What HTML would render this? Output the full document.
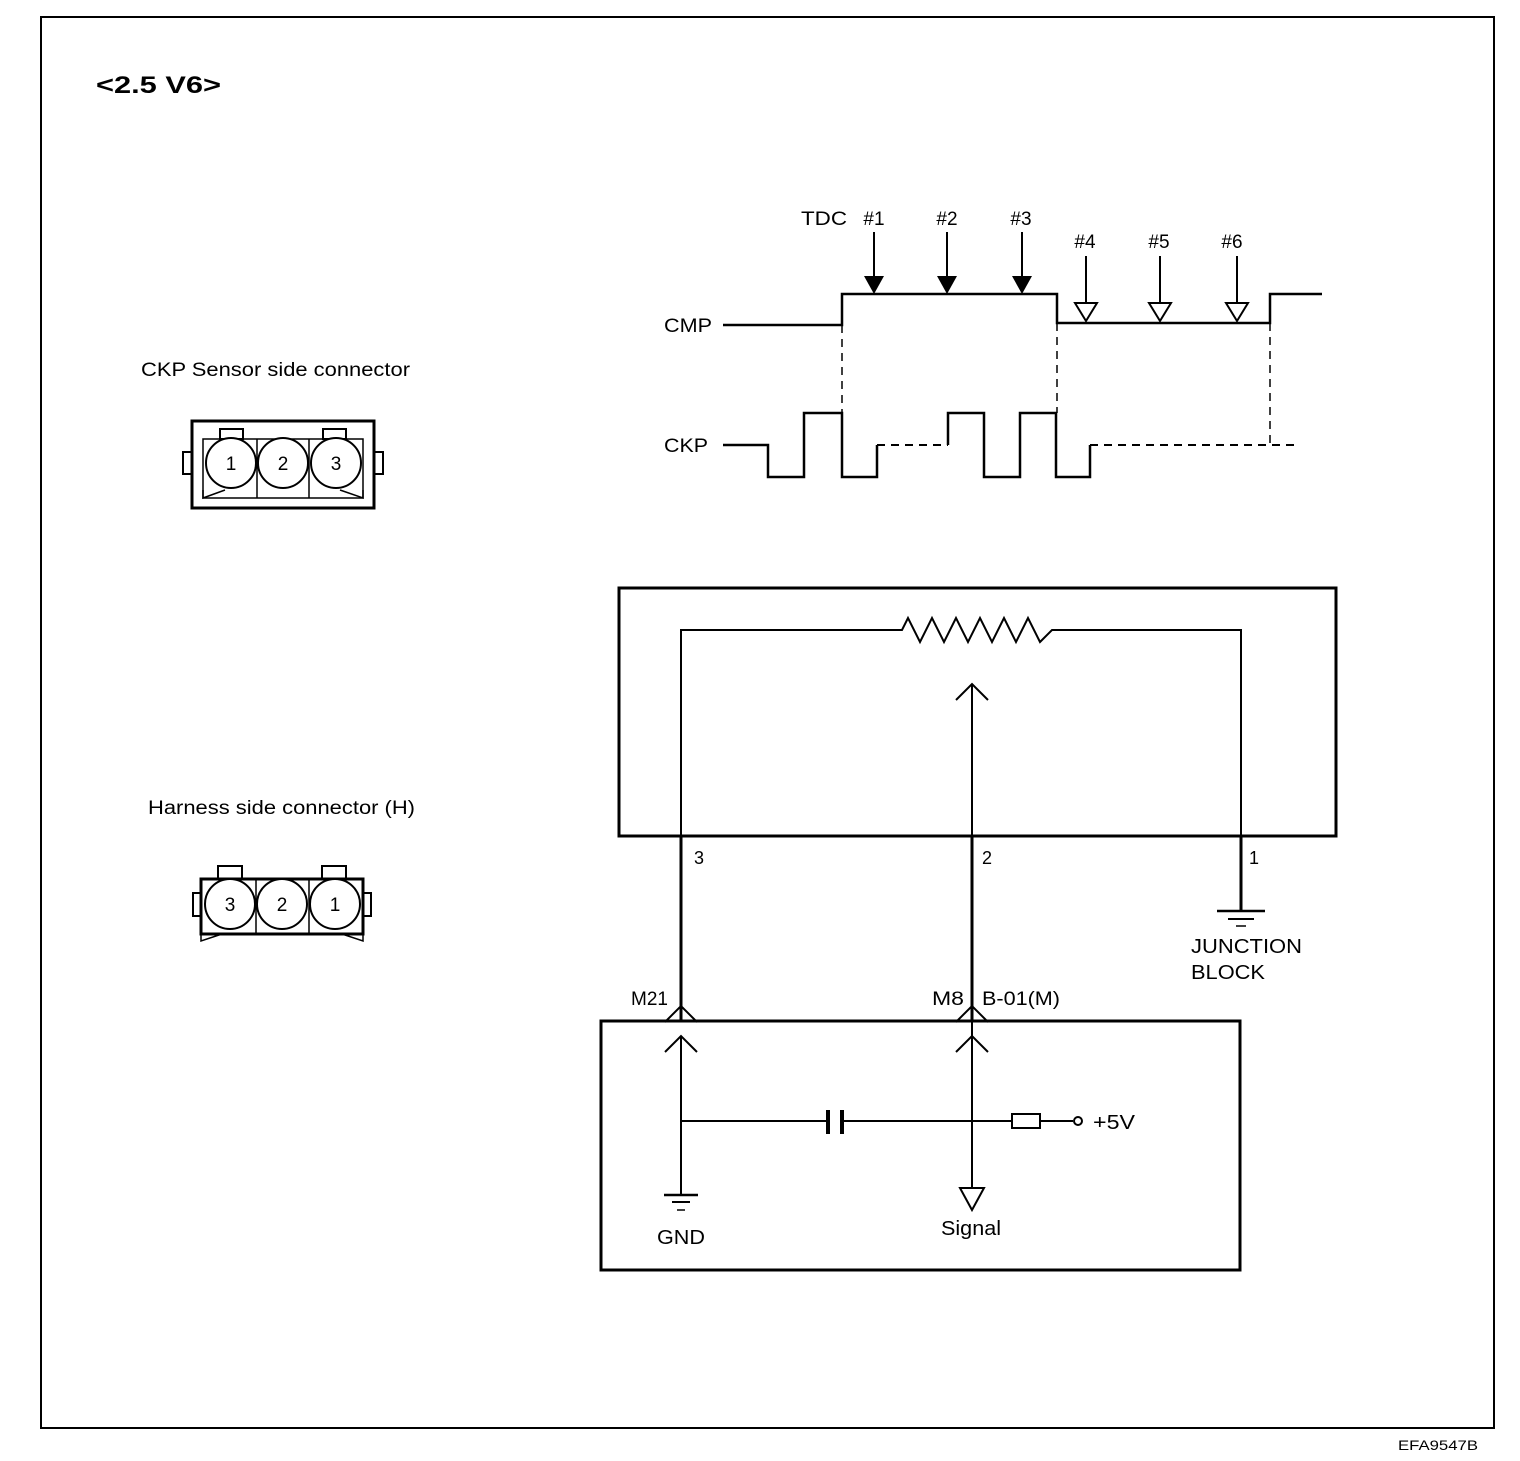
<!DOCTYPE html>
<html><head><style>
body{margin:0;background:#fff;}
svg text{font-family:"Liberation Sans",sans-serif;fill:#000;}
</style></head><body>
<svg width="1520" height="1456" viewBox="0 0 1520 1456" xmlns="http://www.w3.org/2000/svg" fill="none" stroke="#000">
<rect x="41" y="17" width="1453" height="1411" stroke-width="2"/>
<text x="96" y="93" font-size="24" font-weight="bold" stroke="none" textLength="125" lengthAdjust="spacingAndGlyphs">&lt;2.5 V6&gt;</text>
<text x="1398" y="1450" font-size="14" stroke="none" textLength="80" lengthAdjust="spacingAndGlyphs">EFA9547B</text>

<!-- CKP sensor connector -->
<text x="141" y="376" font-size="19" stroke="none" textLength="269" lengthAdjust="spacingAndGlyphs">CKP Sensor side connector</text>
<rect x="192" y="421" width="182" height="87" stroke-width="3"/>
<rect x="183" y="452" width="9" height="22" stroke-width="2"/>
<rect x="374" y="452" width="9" height="22" stroke-width="2"/>
<rect x="220" y="429" width="23" height="10" stroke-width="2"/>
<rect x="323" y="429" width="23" height="10" stroke-width="2"/>
<rect x="203" y="439" width="160" height="59" stroke-width="1.5"/>
<line x1="257" y1="439" x2="257" y2="498" stroke-width="1.5"/>
<line x1="309" y1="439" x2="309" y2="498" stroke-width="1.5"/>
<polyline points="203,490 203,498 225,490" stroke-width="1.5"/>
<polyline points="363,490 363,498 340,490" stroke-width="1.5"/>
<circle cx="231" cy="463" r="25" stroke-width="2" fill="#fff"/>
<circle cx="283" cy="463" r="25" stroke-width="2" fill="#fff"/>
<circle cx="336" cy="463" r="25" stroke-width="2" fill="#fff"/>
<text x="231" y="470" font-size="19" text-anchor="middle" stroke="none">1</text>
<text x="283" y="470" font-size="19" text-anchor="middle" stroke="none">2</text>
<text x="336" y="470" font-size="19" text-anchor="middle" stroke="none">3</text>

<!-- Harness connector -->
<text x="148" y="814" font-size="19" stroke="none" textLength="267" lengthAdjust="spacingAndGlyphs">Harness side connector (H)</text>
<rect x="201" y="879" width="162" height="55" stroke-width="3"/>
<rect x="193" y="893" width="8" height="23" stroke-width="2"/>
<rect x="363" y="893" width="8" height="23" stroke-width="2"/>
<rect x="218" y="866" width="24" height="13" stroke-width="2"/>
<rect x="322" y="866" width="24" height="13" stroke-width="2"/>
<line x1="256" y1="879" x2="256" y2="934" stroke-width="1.5"/>
<line x1="309" y1="879" x2="309" y2="934" stroke-width="1.5"/>
<polyline points="201,934 201,941 222,934" stroke-width="1.5"/>
<polyline points="363,934 363,941 342,934" stroke-width="1.5"/>
<circle cx="230" cy="904" r="25" stroke-width="2" fill="#fff"/>
<circle cx="282" cy="904" r="25" stroke-width="2" fill="#fff"/>
<circle cx="335" cy="904" r="25" stroke-width="2" fill="#fff"/>
<text x="230" y="911" font-size="19" text-anchor="middle" stroke="none">3</text>
<text x="282" y="911" font-size="19" text-anchor="middle" stroke="none">2</text>
<text x="335" y="911" font-size="19" text-anchor="middle" stroke="none">1</text>

<!-- waveform -->
<text x="801" y="225" font-size="19" stroke="none" textLength="46" lengthAdjust="spacingAndGlyphs">TDC</text>
<text x="874" y="225" font-size="19" text-anchor="middle" stroke="none">#1</text>
<text x="947" y="225" font-size="19" text-anchor="middle" stroke="none">#2</text>
<text x="1021" y="225" font-size="19" text-anchor="middle" stroke="none">#3</text>
<text x="1085" y="248" font-size="19" text-anchor="middle" stroke="none">#4</text>
<text x="1159" y="248" font-size="19" text-anchor="middle" stroke="none">#5</text>
<text x="1232" y="248" font-size="19" text-anchor="middle" stroke="none">#6</text>
<text x="664" y="332" font-size="19" stroke="none" textLength="48" lengthAdjust="spacingAndGlyphs">CMP</text>
<text x="664" y="452" font-size="19" stroke="none" textLength="44" lengthAdjust="spacingAndGlyphs">CKP</text>
<polyline points="723,325 842,325 842,294 1057,294 1057,323 1270,323 1270,294 1322,294" stroke-width="2.5"/>
<g stroke-width="2">
<line x1="874" y1="232" x2="874" y2="280"/><line x1="947" y1="232" x2="947" y2="280"/><line x1="1022" y1="232" x2="1022" y2="280"/>
<line x1="1086" y1="256" x2="1086" y2="303"/><line x1="1160" y1="256" x2="1160" y2="303"/><line x1="1237" y1="256" x2="1237" y2="303"/>
</g>
<g fill="#000" stroke="none">
<polygon points="864,276 884,276 874,294"/><polygon points="937,276 957,276 947,294"/><polygon points="1012,276 1032,276 1022,294"/>
</g>
<g stroke-width="2" fill="#fff">
<polygon points="1075,303 1097,303 1086,321"/><polygon points="1149,303 1171,303 1160,321"/><polygon points="1226,303 1248,303 1237,321"/>
</g>
<g stroke-width="1.5" stroke-dasharray="8,6">
<line x1="842" y1="325" x2="842" y2="413"/><line x1="1057" y1="323" x2="1057" y2="413"/><line x1="1270" y1="323" x2="1270" y2="445"/>
<line x1="877" y1="445" x2="948" y2="445" stroke-width="2"/><line x1="1090" y1="445" x2="1295" y2="445" stroke-width="2"/>
</g>
<polyline points="723,445 768,445 768,477 804,477 804,413 842,413 842,477 877,477 877,445" stroke-width="2.5"/>
<polyline points="948,445 948,413 984,413 984,477 1020,477 1020,413 1056,413 1056,477 1090,477 1090,445" stroke-width="2.5"/>

<!-- sensor box -->
<rect x="619" y="588" width="717" height="248" stroke-width="3"/>
<polyline points="681,1020 681,630 902,630 908,618 920,642 932,618 944,642 956,618 968,642 980,618 992,642 1004,618 1016,642 1028,618 1040,642 1052,630 1241,630 1241,910" stroke-width="2"/>
<line x1="681" y1="836" x2="681" y2="1020" stroke-width="3"/>
<line x1="1241" y1="836" x2="1241" y2="910" stroke-width="3"/>
<line x1="972" y1="684" x2="972" y2="1200" stroke-width="2"/>
<line x1="972" y1="836" x2="972" y2="1020" stroke-width="3"/>
<polyline points="956,700 972,684 988,700" stroke-width="2"/>
<text x="694" y="864" font-size="18" stroke="none">3</text>
<text x="982" y="864" font-size="18" stroke="none">2</text>
<text x="1249" y="864" font-size="18" stroke="none">1</text>
<line x1="1217" y1="911" x2="1265" y2="911" stroke-width="2.5"/>
<line x1="1228" y1="919" x2="1254" y2="919" stroke-width="2"/>
<line x1="1236" y1="926" x2="1246" y2="926" stroke-width="1.5"/>
<text x="1191" y="953" font-size="20" stroke="none" textLength="111" lengthAdjust="spacingAndGlyphs">JUNCTION</text>
<text x="1191" y="979" font-size="20" stroke="none" textLength="74" lengthAdjust="spacingAndGlyphs">BLOCK</text>

<!-- ECM box -->
<rect x="601" y="1021" width="639" height="249" stroke-width="3"/>
<text x="631" y="1005" font-size="19" stroke="none" textLength="37" lengthAdjust="spacingAndGlyphs">M21</text>
<text x="932" y="1005" font-size="19" stroke="none" textLength="32" lengthAdjust="spacingAndGlyphs">M8</text>
<text x="982" y="1005" font-size="19" stroke="none" textLength="78" lengthAdjust="spacingAndGlyphs">B-01(M)</text>
<g stroke-width="2">
<polyline points="665,1022 681,1006 697,1022"/><polyline points="665,1052 681,1036 697,1052"/>
<polyline points="956,1022 972,1006 988,1022"/><polyline points="956,1052 972,1036 988,1052"/>
<line x1="681" y1="1036" x2="681" y2="1195"/>
<line x1="681" y1="1121" x2="827" y2="1121"/><line x1="842" y1="1121" x2="1012" y2="1121"/>
<line x1="1040" y1="1121" x2="1073" y2="1121"/>
<rect x="1012" y="1114" width="28" height="14"/>
<circle cx="1078" cy="1121" r="4"/>
<polygon points="960,1188 984,1188 972,1210" fill="#fff"/>
<line x1="664" y1="1195" x2="698" y2="1195" stroke-width="2.5"/>
<line x1="672" y1="1202" x2="690" y2="1202"/>
<line x1="677" y1="1210" x2="685" y2="1210" stroke-width="1.5"/>
</g>
<rect x="826" y="1110" width="4" height="24" fill="#000" stroke="none"/>
<rect x="840" y="1110" width="4" height="24" fill="#000" stroke="none"/>
<text x="1093" y="1129" font-size="20" stroke="none" textLength="42" lengthAdjust="spacingAndGlyphs">+5V</text>
<text x="657" y="1244" font-size="20" stroke="none" textLength="48" lengthAdjust="spacingAndGlyphs">GND</text>
<text x="941" y="1235" font-size="20" stroke="none" textLength="60" lengthAdjust="spacingAndGlyphs">Signal</text>
</svg>
</body></html>
